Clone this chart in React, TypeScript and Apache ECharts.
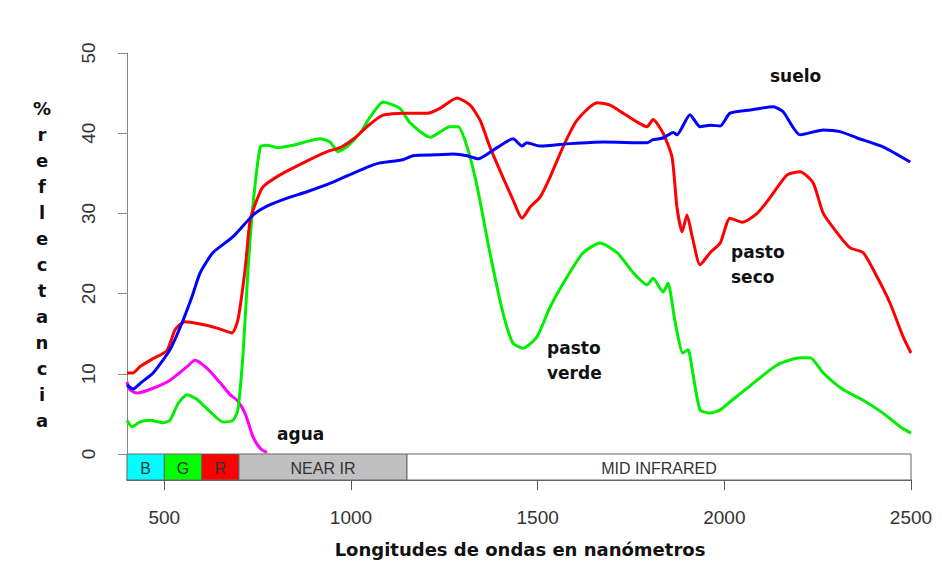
import React, { useEffect, useRef } from "react";
import * as echarts from "echarts";

// ---- data ----
const xTicks = [500, 1000, 1500, 2000, 2500];

const bandLabels = ["B", "G", "R", "NEAR IR", "MID INFRARED"];
const bandStart = [400, 500, 600, 700, 1150];
const bandEnd = [500, 600, 700, 1150, 2500];
const bandColors = ["#00ffff", "#00ff00", "#ff0000", "#c0c0c0", "#ffffff"];

const suelo: [number, number][] = [
  [400, 8.6], [416, 8.1], [440, 9.0], [470, 10.1], [515, 13.0], [547, 16.3], [574, 19.6], [596, 22.6],
  [630, 25.1], [684, 27.1], [738, 29.8], [775, 30.9], [829, 31.9], [882, 32.7], [952, 33.9], [1005, 35.0],
  [1051, 35.9], [1078, 36.3], [1139, 36.7], [1166, 37.2], [1230, 37.3], [1273, 37.4], [1311, 37.2],
  [1340, 36.8], [1391, 38.2], [1434, 39.3], [1458, 38.4], [1471, 38.8], [1506, 38.4], [1587, 38.7],
  [1675, 38.9], [1793, 38.8], [1809, 39.2], [1836, 39.4], [1863, 40.1], [1873, 39.8], [1908, 42.3],
  [1935, 40.8], [1962, 41.0], [1989, 40.9], [2015, 42.5], [2069, 42.9], [2131, 43.3], [2157, 42.7],
  [2203, 39.8], [2265, 40.4], [2310, 40.2], [2356, 39.4], [2425, 38.3], [2498, 36.4],
];

const pastoSeco: [number, number][] = [
  [400, 10.1], [416, 10.1], [435, 10.9], [470, 11.9], [507, 12.9], [529, 15.5], [555, 16.5], [596, 16.2],
  [641, 15.7], [681, 15.1], [697, 16.7], [716, 22.9], [730, 29.2], [748, 31.7], [764, 33.3], [810, 34.8],
  [872, 36.3], [936, 37.7], [971, 38.2], [1010, 39.4], [1045, 40.9], [1083, 42.2], [1139, 42.5],
  [1206, 42.5], [1238, 43.1], [1284, 44.4], [1319, 43.5], [1346, 41.6], [1372, 38.3], [1407, 34.5],
  [1434, 31.7], [1458, 29.4], [1480, 30.8], [1506, 32.0], [1533, 34.5], [1568, 38.3], [1605, 41.6],
  [1659, 43.8], [1694, 43.5], [1729, 42.5], [1766, 41.4], [1793, 40.8], [1809, 41.7], [1836, 40.0],
  [1860, 37.0], [1873, 30.8], [1887, 27.7], [1900, 29.8], [1914, 27.1], [1935, 23.6], [1962, 25.1],
  [1989, 26.3], [2015, 29.4], [2048, 28.9], [2088, 30.0], [2123, 32.0], [2168, 34.8], [2203, 35.2],
  [2238, 33.8], [2265, 30.0], [2310, 27.1], [2337, 25.7], [2372, 25.1], [2409, 22.1], [2444, 18.8],
  [2479, 14.6], [2500, 12.6],
];

const pastoVerde: [number, number][] = [
  [400, 4.2], [413, 3.4], [435, 4.0], [462, 4.2], [496, 3.9], [515, 4.2], [537, 6.3], [561, 7.4],
  [588, 6.8], [622, 5.3], [657, 4.0], [684, 4.2], [697, 5.5], [711, 12.6], [724, 22.9], [738, 31.3],
  [757, 38.3], [775, 38.5], [802, 38.2], [845, 38.5], [917, 39.3], [944, 38.9], [965, 37.7], [989, 38.3],
  [1024, 40.0], [1051, 42.0], [1086, 43.9], [1131, 43.1], [1158, 41.3], [1212, 39.5], [1265, 40.8],
  [1287, 40.8], [1311, 38.3], [1338, 33.3], [1372, 25.1], [1407, 17.6], [1434, 13.8], [1461, 13.2],
  [1498, 14.6], [1533, 18.3], [1579, 22.1], [1622, 25.1], [1667, 26.3], [1713, 25.1], [1756, 22.6],
  [1793, 21.1], [1809, 21.9], [1836, 20.2], [1849, 21.3], [1868, 16.5], [1889, 12.6], [1903, 13.0],
  [1914, 10.5], [1935, 5.5], [1962, 5.1], [1989, 5.5], [2023, 6.8], [2069, 8.5], [2141, 11.1],
  [2203, 12.0], [2230, 12.0], [2265, 10.1], [2319, 8.0], [2372, 6.7], [2425, 5.1], [2471, 3.4],
  [2500, 2.6],
];

const agua: [number, number][] = [
  [400, 9.0], [408, 8.0], [427, 7.6], [470, 8.2], [515, 9.2], [561, 10.9], [582, 11.7], [614, 10.7],
  [649, 8.9], [676, 7.4], [695, 6.7], [716, 5.1], [738, 2.1], [757, 0.7], [775, 0.2],
];

const yTitle = "% reflectancia";
const xTitle = "Longitudes de ondas en nanómetros";

const BOLD = "DejaVu Sans";
const SANS = "Liberation Sans";

export default function App() {
  const ref = useRef<HTMLDivElement>(null);

  useEffect(() => {
    document.body.style.margin = "0";
    const chart = echarts.init(ref.current!, null, { renderer: "svg" });

    const lineSeries = (name: string, data: [number, number][], color: string) => ({
      name,
      type: "line",
      xAxisIndex: 0,
      yAxisIndex: 0,
      data,
      showSymbol: false,
      symbol: "none",
      smooth: 0.2,
      lineStyle: { color, width: 3 },
      z: 5,
    });

    const annot = (text: string, x: number, y: number, align = "left") => ({
      type: "text",
      x,
      y,
      style: {
        text,
        fill: "#111",
        fontFamily: BOLD,
        fontWeight: "bold",
        fontSize: 17,
        lineHeight: 25,
        align,
        verticalAlign: "top",
      },
    });

    const option: any = {
      animation: false,
      backgroundColor: "#ffffff",
      grid: [
        { left: 127, top: 53, width: 784, height: 401 },
        { left: 127, top: 454, width: 784, height: 26 },
      ],
      xAxis: [
        { gridIndex: 0, type: "value", min: 400, max: 2500, show: false },
        {
          gridIndex: 1,
          type: "value",
          min: 400,
          max: 2500,
          axisLine: { show: true, lineStyle: { color: "#333", width: 1.5 } },
          axisTick: { show: true, customValues: xTicks, length: 10, lineStyle: { color: "#555" } },
          axisLabel: {
            customValues: xTicks,
            formatter: (v: number) => String(v),
            margin: 28,
            fontSize: 19,
            fontFamily: SANS,
            color: "#333",
          },
          splitLine: { show: false },
        },
      ],
      yAxis: [
        {
          gridIndex: 0,
          type: "value",
          min: 0,
          max: 50,
          interval: 10,
          axisLine: { show: true, lineStyle: { color: "#888", width: 1 } },
          axisTick: { show: true, length: 9, lineStyle: { color: "#888" } },
          axisLabel: {
            rotate: 90,
            margin: 29,
            formatter: (v: number) => String(v),
            fontSize: 19,
            fontFamily: SANS,
            color: "#333",
          },
          splitLine: { show: false },
        },
        { gridIndex: 1, type: "value", min: 0, max: 1, show: false },
      ],
      series: [
        {
          type: "custom",
          xAxisIndex: 1,
          yAxisIndex: 1,
          data: bandStart.map((s, i) => [s, bandEnd[i]]),
          encode: { x: [0, 1] },
          renderItem: (params: any, api: any) => {
            const i = params.dataIndex;
            const p0 = api.coord([bandStart[i], 1]);
            const p1 = api.coord([bandEnd[i], 0]);
            return {
              type: "group",
              children: [
                {
                  type: "rect",
                  shape: { x: p0[0], y: p0[1], width: p1[0] - p0[0], height: p1[1] - p0[1] },
                  style: { fill: bandColors[i], stroke: "#666", lineWidth: 1 },
                },
                {
                  type: "text",
                  style: {
                    text: bandLabels[i],
                    x: (p0[0] + p1[0]) / 2,
                    y: (p0[1] + p1[1]) / 2 + 1,
                    align: "center",
                    verticalAlign: "middle",
                    fill: "#333",
                    fontFamily: SANS,
                    fontSize: 16,
                  },
                },
              ],
            };
          },
          z: 2,
        },
        lineSeries("agua", agua, "#ff00ff"),
        lineSeries("pasto verde", pastoVerde, "#00ee00"),
        lineSeries("pasto seco", pastoSeco, "#ff0000"),
        lineSeries("suelo", suelo, "#0000ff"),
      ],
      graphic: [
        {
          type: "text",
          x: 42,
          y: 95,
          style: {
            text: yTitle.replace(" ", "").split("").join("\n"),
            fill: "#111",
            fontFamily: BOLD,
            fontWeight: "bold",
            fontSize: 18,
            lineHeight: 26,
            align: "center",
            verticalAlign: "top",
          },
        },
        {
          type: "text",
          x: 520,
          y: 549,
          style: {
            text: xTitle,
            fill: "#111",
            fontFamily: BOLD,
            fontWeight: "bold",
            fontSize: 18,
            align: "center",
            verticalAlign: "middle",
          },
        },
        annot("suelo", 770, 63),
        annot("pasto\nseco", 731, 239),
        annot("pasto\nverde", 547, 335),
        annot("agua", 277, 421),
      ],
    };

    chart.setOption(option);
    return () => chart.dispose();
  }, []);

  return (
    <div
      ref={ref}
      style={{ position: "fixed", left: 0, top: 0, width: 942, height: 562 }}
    />
  );
}
